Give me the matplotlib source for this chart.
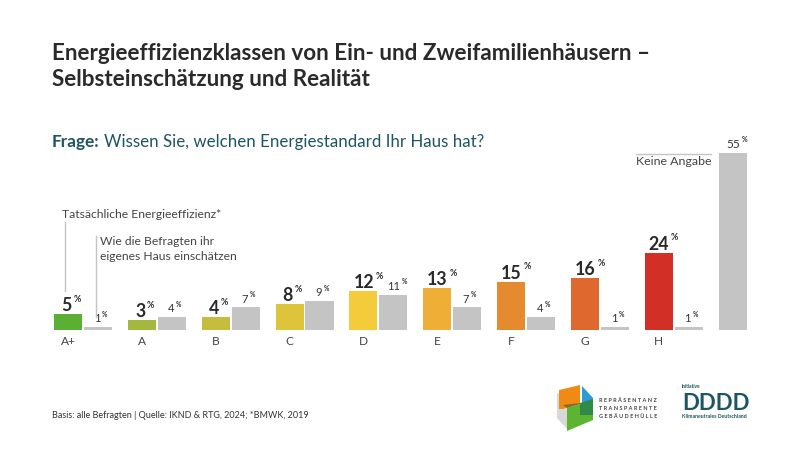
import numpy as np
import matplotlib.pyplot as plt
from matplotlib.patches import Polygon

plt.rcParams['font.family'] = ['Lato', 'DejaVu Sans']

classes = ['A+', 'A', 'B', 'C', 'D', 'E', 'F', 'G', 'H']
actual = [5, 3, 4, 8, 12, 13, 15, 16, 24]
estimate = [1, 4, 7, 9, 11, 7, 4, 1, 1]
no_answer = 55
class_colors = ['#5BAF32', '#A4B83E', '#C6BC3E', '#DEC43A', '#F4CB3A',
                '#EFAE36', '#E68A30', '#DF682E', '#D22F27']
gray = '#C4C4C4'
dark = '#2A2A2A'
teal = '#1D5563'

W, H = 800, 451
PITCH = 73.85      # px per group
Y_SCALE = 3.22     # px per percent
X0, Y0 = 54, 330   # px position of first bar / baseline
BAR_W = 0.38
OFFSET = 0.405

fig = plt.figure(figsize=(8, 4.51), dpi=100)
ax = fig.add_axes([0, 0, 1, 1])
ax.set_xlim(-X0 / PITCH, (W - X0) / PITCH)
ax.set_ylim(-(H - Y0) / Y_SCALE, Y0 / Y_SCALE)
for s in ['top', 'left', 'right']:
    ax.spines[s].set_visible(False)
ax.spines['bottom'].set_position(('data', 0))
ax.spines['bottom'].set_visible(False)
ax.set_yticks([])

x = np.arange(len(classes))
ax.bar(x, actual, width=BAR_W, align='edge', color=class_colors)
ax.bar(x + OFFSET, estimate, width=BAR_W, align='edge', color=gray)
ax.bar(len(classes), no_answer, width=BAR_W, align='edge', color=gray)
ax.set_xticks(x + BAR_W / 2, classes, fontsize=8.6, color='#444444')
ax.tick_params(axis='x', length=0, pad=4.5)


def px(xp, yp):
    return xp / W, 1 - yp / H


def label(xc, val, size, small, weight, gap, color):
    # number plus small raised percent sign, centred over the bar
    shift = (2 if val < 10 else 6) * size / 7.3 * 0.72
    ax.annotate(str(val), (xc, val), xytext=(shift, gap), textcoords='offset points',
                ha='right', va='bottom', fontsize=size, fontweight=weight, color=color)
    ax.annotate('%', (xc, val), xytext=(shift + 1.2, gap + size * 0.58), textcoords='offset points',
                ha='left', va='bottom', fontsize=small, fontweight='bold', color=color)


for i in x:
    label(i + BAR_W / 2, actual[i], 12.8, 6.4, 'bold', 0, dark)
    label(i + OFFSET + BAR_W / 2, estimate[i], 8, 4.8, 'normal', 2, '#333333')
label(len(classes) + BAR_W / 2, no_answer, 8.6, 5, 'normal', 2, '#333333')

fig.text(*px(52, 53), 'Energieeffizienzklassen von Ein- und Zweifamilienhäusern –',
         fontsize=16.2, fontweight='bold', color=dark, va='center')
fig.text(*px(52, 79), 'Selbsteinschätzung und Realität',
         fontsize=16.2, fontweight='bold', color=dark, va='center')
fig.text(*px(52, 142), 'Frage:', fontsize=12.4, fontweight='bold', color=teal, va='center')
fig.text(*px(104, 142), 'Wissen Sie, welchen Energiestandard Ihr Haus hat?',
         fontsize=12.2, color=teal, va='center')

fig.text(*px(62, 214), 'Tatsächliche Energieeffizienz*', fontsize=8.7, color='#444444', va='center')
fig.text(*px(100, 241), 'Wie die Befragten ihr', fontsize=8.7, color='#444444', va='center')
fig.text(*px(100, 256), 'eigenes Haus einschätzen', fontsize=8.7, color='#444444', va='center')
fig.text(*px(636, 162), 'Keine Angabe', fontsize=8.9, color='#444444', va='center')
fig.add_artist(plt.Line2D([64.5 / W, 64.5 / W], [1 - 222 / H, 1 - 291 / H], color=gray, lw=1))
fig.add_artist(plt.Line2D([96 / W, 96 / W], [1 - 236 / H, 1 - 317 / H], color=gray, lw=1))
fig.add_artist(plt.Line2D([636 / W, 711 / W], [1 - 154 / H, 1 - 154 / H], color=gray, lw=1))

fig.text(*px(52, 415), 'Basis: alle Befragten | Quelle: IKND & RTG, 2024; *BMWK, 2019',
         fontsize=6.5, color='#333333', va='center')


# logos
def poly(points, color, alpha=1.0):
    fig.add_artist(Polygon([px(a, b) for a, b in points], closed=True, facecolor=color,
                           edgecolor='none', alpha=alpha, transform=fig.transFigure))


poly([(557, 394), (569, 389), (569, 431), (557, 418)], '#D8D8D8')
poly([(559, 390), (580, 385), (580, 403), (563, 409), (559, 409)], '#EF8A14')
poly([(582, 386), (593, 398), (593, 419), (582, 404)], '#2E9BD6')
poly([(567, 408), (593, 400), (593, 420), (567, 431)], '#5CB531')
poly([(580, 403), (593, 399), (593, 415), (580, 415)], '#2F8A4A')
poly([(563, 405), (580, 403), (580, 404), (567, 408)], '#8A6A20')

for yp, s in [(400, 'REPRÄSENTANZ'), (408, 'TRANSPARENTE'), (416, 'GEBÄUDEHÜLLE')]:
    fig.text(*px(599, yp), ' '.join(s), fontsize=4.0, fontweight='bold', color='#444444', va='center')

fig.text(*px(682, 387), 'Initiative', fontsize=3.4, fontweight='bold', color=teal, va='center')
fig.text(*px(682, 403), 'DDDD', fontsize=16, fontweight='bold', color=teal, va='center')
fig.text(*px(682, 417), 'Klimaneutrales Deutschland', fontsize=3.7, fontweight='bold', color=teal, va='center')

fig.savefig('out.png', dpi=100)
